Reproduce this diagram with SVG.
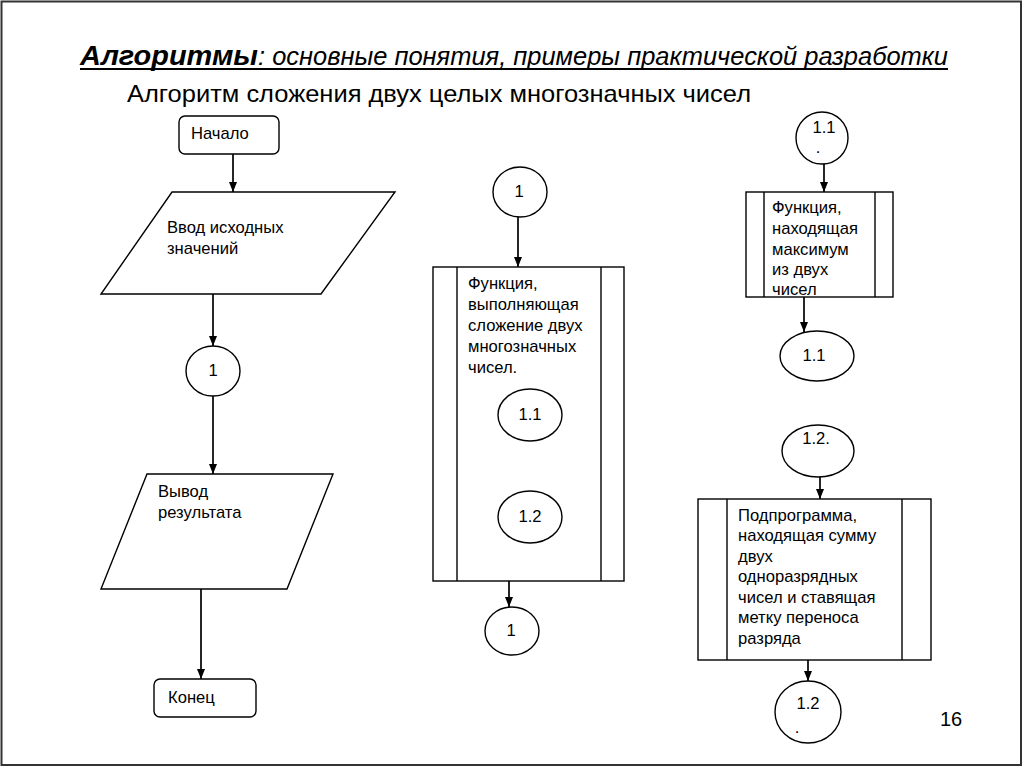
<svg xmlns="http://www.w3.org/2000/svg" width="1024" height="768" viewBox="0 0 1024 768">
<defs>
<marker id="arr" viewBox="0 0 10 10" refX="10" refY="5" markerWidth="10" markerHeight="10" markerUnits="userSpaceOnUse" orient="auto">
<path d="M0,1 L10,5 L0,9 Z" fill="#000"/>
</marker>
</defs>
<style>
.s{fill:#fff;stroke:#000;stroke-width:1.4}
.t{font-family:"Liberation Sans",Arial,sans-serif;font-size:16.6px;fill:#000}
.c{text-anchor:middle}
.ln{stroke:#000;stroke-width:1.7;fill:none;marker-end:url(#arr)}
.in{stroke:#000;stroke-width:1.4}
</style>
<rect x="0" y="0" width="1024" height="768" fill="#fff"/>
<rect x="1.5" y="1.5" width="1019.5" height="763.5" fill="none" stroke="#333" stroke-width="2"/>
<g id="title">
<text x="80" y="65" font-family="'Liberation Sans',Arial,sans-serif" font-size="27" font-weight="bold" font-style="italic" textLength="178" lengthAdjust="spacingAndGlyphs">Алгоритмы</text>
<text x="258" y="65" font-family="'Liberation Sans',Arial,sans-serif" font-size="26" font-style="italic" textLength="690" lengthAdjust="spacingAndGlyphs">: основные понятия, примеры практической разработки</text>
<line x1="80" y1="69" x2="948" y2="69" stroke="#000" stroke-width="2.2"/>
</g>
<g id="subtitle">
<text x="127" y="102" font-family="'Liberation Sans',Arial,sans-serif" font-size="24" textLength="624" lengthAdjust="spacingAndGlyphs">Алгоритм сложения двух целых многозначных чисел</text>
</g>
<g id="connectors">
<line class="ln" x1="233" y1="154" x2="233" y2="192"/>
<line class="ln" x1="213" y1="294" x2="213" y2="346"/>
<line class="ln" x1="213" y1="396" x2="213" y2="474"/>
<line class="ln" x1="201" y1="589" x2="201" y2="679"/>
<line class="ln" x1="518" y1="217" x2="518" y2="267"/>
<line class="ln" x1="509" y1="581" x2="509" y2="607"/>
<line class="ln" x1="824" y1="164" x2="824" y2="192"/>
<line class="ln" x1="804" y1="297" x2="804" y2="332"/>
<line class="ln" x1="820" y1="477" x2="820" y2="499"/>
<line class="ln" x1="808" y1="660" x2="808" y2="681"/>
</g>
<g id="start">
<rect class="s" x="179" y="116" width="100" height="38" rx="6"/>
<text class="t" x="191" y="139">Начало</text>
</g>
<g id="input">
<polygon class="s" points="172,192 395,192 321,294 101,294"/>
<text class="t" x="167" y="233">Ввод исходных</text>
<text class="t" x="167" y="254">значений</text>
</g>
<g id="conn1a">
<ellipse class="s" cx="213" cy="371" rx="27" ry="25"/>
<text class="t c" x="213" y="376">1</text>
</g>
<g id="output">
<polygon class="s" points="147,474 333,474 287,589 101,589"/>
<text class="t" x="158" y="497">Вывод</text>
<text class="t" x="158" y="518">результата</text>
</g>
<g id="end">
<rect class="s" x="154" y="679" width="102" height="38" rx="6"/>
<text class="t" x="168" y="703">Конец</text>
</g>
<g id="conn1b">
<ellipse class="s" cx="520" cy="192" rx="27" ry="25"/>
<text class="t c" x="519" y="197">1</text>
</g>
<g id="func-add">
<rect class="s" x="433" y="267" width="191" height="314"/>
<line class="in" x1="457" y1="267" x2="457" y2="581"/>
<line class="in" x1="601" y1="267" x2="601" y2="581"/>
<text class="t" x="468" y="289">Функция,</text>
<text class="t" x="468" y="310">выполняющая</text>
<text class="t" x="468" y="331">сложение двух</text>
<text class="t" x="468" y="352">многозначных</text>
<text class="t" x="468" y="373">чисел.</text>
</g>
<g id="inner11">
<ellipse class="s" cx="530" cy="415" rx="32" ry="26"/>
<text class="t c" x="530" y="420">1.1</text>
</g>
<g id="inner12">
<ellipse class="s" cx="530" cy="517" rx="32" ry="26"/>
<text class="t c" x="530" y="522">1.2</text>
</g>
<g id="conn1c">
<ellipse class="s" cx="512" cy="631" rx="27" ry="24"/>
<text class="t c" x="511" y="636">1</text>
</g>
<g id="conn11a">
<ellipse class="s" cx="822" cy="138" rx="26" ry="26"/>
<text class="t c" x="824" y="133">1.1</text>
<text class="t c" x="818" y="153">.</text>
</g>
<g id="func-max">
<rect class="s" x="746" y="192" width="147" height="105"/>
<line class="in" x1="764" y1="192" x2="764" y2="297"/>
<line class="in" x1="875" y1="192" x2="875" y2="297"/>
<text class="t" x="772" y="213">Функция,</text>
<text class="t" x="772" y="234">находящая</text>
<text class="t" x="772" y="255">максимум</text>
<text class="t" x="772" y="275">из двух</text>
<text class="t" x="772" y="295">чисел</text>
</g>
<g id="conn11b">
<ellipse class="s" cx="817" cy="356" rx="37" ry="25"/>
<text class="t c" x="814" y="361">1.1</text>
</g>
<g id="conn12a">
<ellipse class="s" cx="818" cy="451" rx="36" ry="26"/>
<text class="t c" x="816" y="444">1.2.</text>
</g>
<g id="sub-sum">
<rect class="s" x="698" y="499" width="233" height="161"/>
<line class="in" x1="727" y1="499" x2="727" y2="660"/>
<line class="in" x1="902" y1="499" x2="902" y2="660"/>
<text class="t" x="738" y="521">Подпрограмма,</text>
<text class="t" x="738" y="541">находящая сумму</text>
<text class="t" x="738" y="562">двух</text>
<text class="t" x="738" y="582">одноразрядных</text>
<text class="t" x="738" y="603">чисел и ставящая</text>
<text class="t" x="738" y="623">метку переноса</text>
<text class="t" x="738" y="644">разряда</text>
</g>
<g id="conn12b">
<ellipse class="s" cx="808" cy="712" rx="33" ry="31"/>
<text class="t c" x="808" y="709">1.2</text>
<text class="t c" x="797" y="733">.</text>
</g>
<g id="pagenum">
<text x="940" y="726" font-family="'Liberation Sans',Arial,sans-serif" font-size="20" fill="#000">16</text>
</g>
</svg>
